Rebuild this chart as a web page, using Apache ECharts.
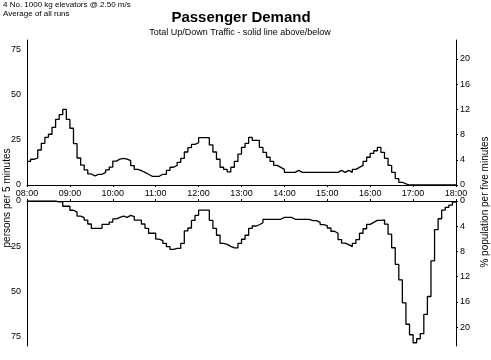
<!DOCTYPE html>
<html><head><meta charset="utf-8">
<script src="https://cdn.jsdelivr.net/npm/echarts@6/dist/echarts.min.js"></script>
<style>html,body{margin:0;padding:0;background:#fff}#c{width:491px;height:360px}</style>
</head><body><div id="c"></div>
<script>
// persons per 5 minutes, 08:00 - 18:00 (120 intervals)
const upTraffic = [
  13, 14.2, 14.9, 19.3, 23, 26.3, 28, 31.8, 36.2, 38.8,
  41.7, 36.2, 31.3, 22.8, 14.9, 11, 8.3, 6.1, 5, 5.9,
  5.9, 7, 8.3, 9.9, 13.2, 14.3, 14.7, 14.3, 13.4, 10.7,
  8.6, 7.9, 7, 5.9, 4.8, 4.8, 4.8, 5.9, 5.9, 8.1,
  9.8, 10.8, 12.5, 14.7, 18.2, 20.6, 22.4, 23.3, 26.1, 26.1,
  26.1, 22.1, 18.2, 14.2, 9.8, 8.6, 7.2, 9.8, 13, 17,
  20.8, 23, 26.3, 24.6, 24.6, 20.8, 18, 15.3, 13, 10.8,
  9.7, 8.6, 7, 7, 7, 8.1, 7, 7, 7, 7,
  7, 7, 7, 7, 7, 7, 7, 8.1, 7, 8.1,
  7, 8.6, 9.7, 10.8, 13, 15.3, 17.5, 18.9, 20.8, 18,
  14.7, 10.8, 7, 3.5, 1.5, 0.6, 0, 0, 0, 0,
  0, 0, 0, 0, 0, 0, 0, 0, 0, 0
];
const downTraffic = [
  0, 0, 0, 0, 0, 0, 0, 0, 0.5, 0.5,
  2.9, 2.9, 5.1, 6.1, 8.3, 9.2, 10.5, 12.7, 15.1, 15.1,
  15.1, 12.9, 12.9, 11.6, 9.9, 9, 8.3, 9, 7.9, 8.6,
  10.5, 10.5, 12.7, 15.1, 17.8, 17.8, 21, 21.9, 23.4, 25.2,
  26.7, 26.1, 26.1, 23.4, 16.5, 14.9, 10.7, 7.9, 5, 5,
  5, 10.7, 15.1, 18.9, 23.4, 23.9, 25, 25.9, 25.9, 23.4,
  21.1, 18.9, 15.1, 13.8, 13.1, 12, 10.1, 10.1, 10.1, 10.1,
  10.1, 9, 9, 9, 10.1, 10.1, 10.1, 10.1, 10.1, 10.8,
  10.8, 11.8, 13, 13.6, 14.9, 16.7, 17.8, 21.3, 23.2, 24.1,
  25.2, 23.4, 21.3, 17.8, 15.3, 12.9, 11.8, 10.7, 10.7, 10.4,
  12.8, 18.3, 25.8, 35, 43.5, 56.2, 68, 73.8, 78.2, 76,
  73.2, 62.6, 52.7, 33, 15.8, 9.8, 5, 3.5, 2.3, 0.6
];
const timeLabels = ['08:00','09:00','10:00','11:00','12:00','13:00','14:00','15:00','16:00','17:00','18:00'];
const personTicks = [0, 25, 50, 75];
const percentTicks = [0, 4, 8, 12, 16, 20];
const stepMinutes = 5;
const personMax = 80;
const percentMax = 23;

const FONT = "'Liberation Sans', Arial, sans-serif";
const totalMinutes = (timeLabels.length - 1) * 60;

function toSteps(arr) {
  const d = arr.map((v, i) => [i * stepMinutes, v]);
  d.push([arr.length * stepMinutes, arr[arr.length - 1]]);
  return d;
}

const axisLineStyle = { color: '#000', width: 1 };
const lbl = { color: '#000', fontFamily: FONT, fontSize: 9 };

const chart = echarts.init(document.getElementById('c'), null, { renderer: 'canvas' });
chart.setOption({
  backgroundColor: '#fff',
  animation: false,
  graphic: [
    { type: 'text', left: 3, top: 1, style: { text: '4 No. 1000 kg elevators @ 2.50 m/s', fill: '#000', font: '8px ' + FONT } },
    { type: 'text', left: 3, top: 10, style: { text: 'Average of all runs', fill: '#000', font: '8px ' + FONT } },
    { type: 'text', x: 241, y: 18, style: { text: 'Passenger Demand', fill: '#000', font: 'bold 15px ' + FONT, align: 'center', verticalAlign: 'middle' } },
    { type: 'text', x: 240, y: 33, style: { text: 'Total Up/Down Traffic - solid line above/below', fill: '#000', font: '9px ' + FONT, align: 'center', verticalAlign: 'middle' } },
    { type: 'text', x: 7, y: 198, rotation: Math.PI / 2, style: { text: 'persons per 5 minutes', fill: '#000', font: '10px ' + FONT, align: 'center', verticalAlign: 'middle' } },
    { type: 'text', x: 485, y: 202, rotation: Math.PI / 2, style: { text: '% population per five minutes', fill: '#000', font: '10px ' + FONT, align: 'center', verticalAlign: 'middle' } }
  ],
  grid: [
    { left: 27, right: 35, top: 40, height: 145 },
    { left: 27, right: 35, top: 201, height: 145 }
  ],
  xAxis: [
    {
      gridIndex: 0, type: 'value', min: 0, max: totalMinutes, interval: 60,
      axisLine: { lineStyle: axisLineStyle }, splitLine: { show: false },
      axisTick: { show: true, length: 2, lineStyle: axisLineStyle },
      axisLabel: Object.assign({ margin: 4, showMinLabel: true, showMaxLabel: true,
        formatter: v => timeLabels[Math.round(v / 60)] }, lbl)
    },
    {
      gridIndex: 1, type: 'value', min: 0, max: totalMinutes, interval: 60, position: 'top',
      axisLine: { lineStyle: axisLineStyle }, splitLine: { show: false },
      axisTick: { show: true, length: 2, lineStyle: axisLineStyle },
      axisLabel: { show: false }
    }
  ],
  yAxis: [
    {
      gridIndex: 0, type: 'value', min: 0, max: personMax, position: 'left',
      axisLine: { show: true, lineStyle: axisLineStyle }, splitLine: { show: false },
      axisTick: { show: false },
      axisLabel: Object.assign({ margin: 6, customValues: personTicks }, lbl)
    },
    {
      gridIndex: 0, type: 'value', min: 0, max: percentMax, position: 'right',
      axisLine: { show: true, lineStyle: axisLineStyle }, splitLine: { show: false },
      axisTick: { show: true, length: 2, customValues: percentTicks, lineStyle: axisLineStyle },
      axisLabel: Object.assign({ margin: 4, customValues: percentTicks }, lbl)
    },
    {
      gridIndex: 1, type: 'value', min: 0, max: personMax, inverse: true, position: 'left',
      axisLine: { show: true, lineStyle: axisLineStyle }, splitLine: { show: false },
      axisTick: { show: false },
      axisLabel: Object.assign({ margin: 6, customValues: personTicks }, lbl)
    },
    {
      gridIndex: 1, type: 'value', min: 0, max: percentMax, inverse: true, position: 'right',
      axisLine: { show: true, lineStyle: axisLineStyle }, splitLine: { show: false },
      axisTick: { show: true, length: 2, customValues: percentTicks, lineStyle: axisLineStyle },
      axisLabel: Object.assign({ margin: 4, customValues: percentTicks }, lbl)
    }
  ],
  series: [
    { type: 'line', xAxisIndex: 0, yAxisIndex: 0, step: 'end', symbol: 'none',
      lineStyle: { color: '#000', width: 1.3 }, data: toSteps(upTraffic) },
    { type: 'line', xAxisIndex: 1, yAxisIndex: 2, step: 'end', symbol: 'none',
      lineStyle: { color: '#000', width: 1.3 }, data: toSteps(downTraffic) }
  ]
});
</script>
</body></html>
